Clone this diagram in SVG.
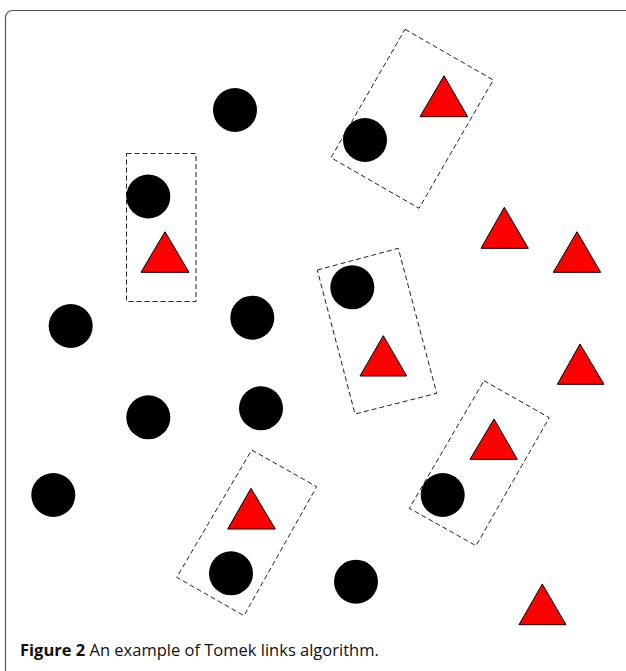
<svg xmlns="http://www.w3.org/2000/svg" width="626" height="671" viewBox="0 0 626 671">
<style>
.frame{fill:none;stroke:#555;stroke-width:1.2}
.box{fill:none;stroke:#222;stroke-width:1;stroke-dasharray:5,3}
.dot{fill:#000}
.tri{fill:#f00;stroke:#000;stroke-width:1}
.cap{font-family:"Open Sans","Liberation Sans",sans-serif;font-size:16.5px;fill:#111}
</style>
<rect class="frame" x="5.5" y="10.5" width="660" height="720" rx="7"/>
<g id="links">
<polygon class="box" points="405,29.3 493.3,80 419,208.3 331,157.7"/>
<rect class="box" x="126.5" y="153.5" width="69.5" height="148"/>
<polygon class="box" points="317.3,270 398.3,248.3 436.7,393.3 355,414"/>
<polygon class="box" points="484,380.7 549.3,417.7 476,545.7 409.3,508.3"/>
<polygon class="box" points="251.7,450 316.7,486.7 244,615.7 176.7,577.3"/>
</g>
<g id="circles">
<circle class="dot" cx="235" cy="110" r="22"/>
<circle class="dot" cx="365" cy="140" r="22"/>
<circle class="dot" cx="148.3" cy="196.5" r="22"/>
<circle class="dot" cx="70.7" cy="326" r="22"/>
<circle class="dot" cx="252.3" cy="317.7" r="22"/>
<circle class="dot" cx="352.3" cy="287.3" r="22"/>
<circle class="dot" cx="148.3" cy="417.3" r="22"/>
<circle class="dot" cx="261" cy="408.3" r="22"/>
<circle class="dot" cx="53.3" cy="495" r="22"/>
<circle class="dot" cx="442.7" cy="495" r="22"/>
<circle class="dot" cx="231" cy="573.3" r="22"/>
<circle class="dot" cx="356" cy="581.7" r="22"/>
</g>
<g id="triangles">
<polygon class="tri" points="444,75.7 467.7,116.7 420,116.7"/>
<polygon class="tri" points="165,231.7 189,272.3 141,272.3"/>
<polygon class="tri" points="504.3,207.3 528.3,248.3 481,248.3"/>
<polygon class="tri" points="577,231.7 600.7,272.3 553.3,272.3"/>
<polygon class="tri" points="383.3,335.7 406.7,376 360,376"/>
<polygon class="tri" points="580,344 604,384.3 557.3,384.3"/>
<polygon class="tri" points="494,419 517.3,459.3 470,459.3"/>
<polygon class="tri" points="251,488.3 275.3,529 227.7,529"/>
<polygon class="tri" points="542.3,584 566,624.7 519,624.7"/>
</g>
<text class="cap" x="20" y="656"><tspan font-weight="bold">Figure 2</tspan> An example of Tomek links algorithm.</text>
</svg>
